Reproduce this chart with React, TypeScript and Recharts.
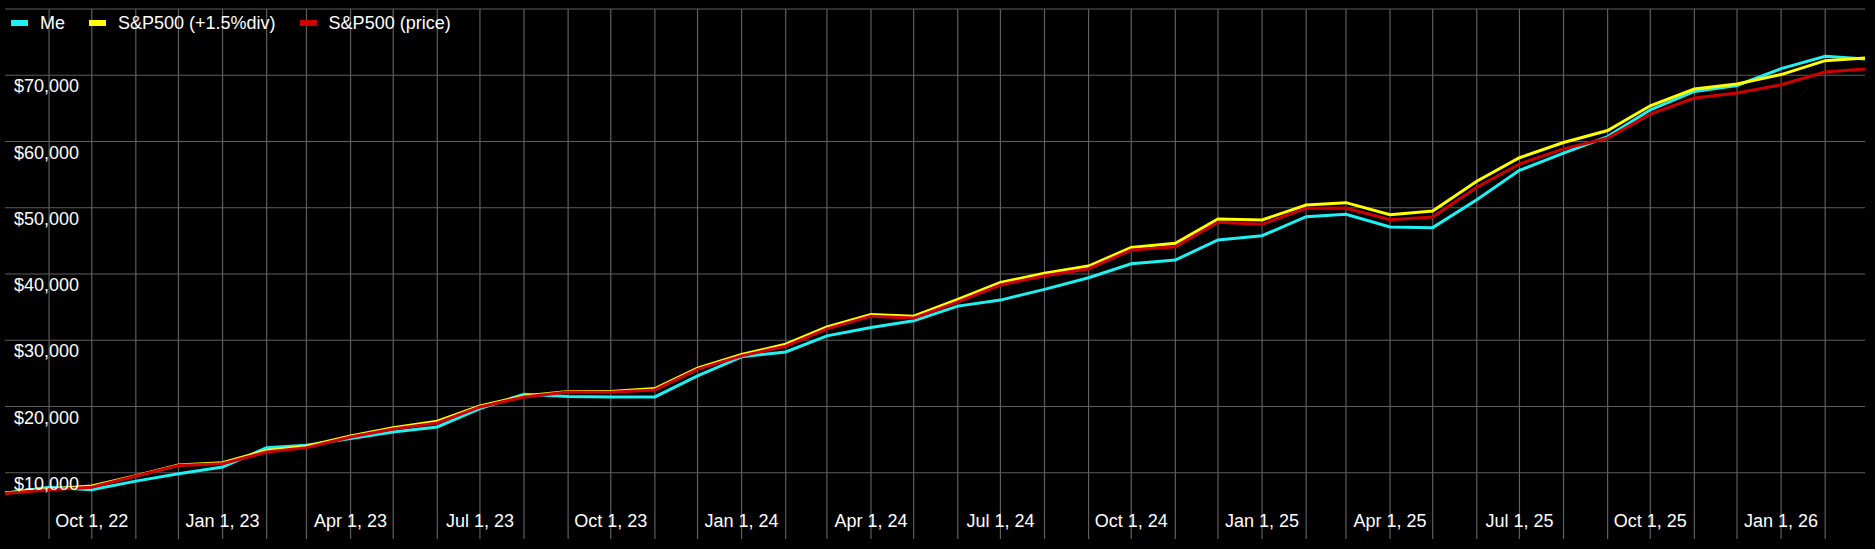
import { LineChart, Line, XAxis, YAxis, CartesianGrid } from "recharts";

// monthly snapshots, first of each month
const MONTHS = [
  "2022-08", "2022-09", "2022-10", "2022-11", "2022-12",
  "2023-01", "2023-02", "2023-03", "2023-04", "2023-05", "2023-06",
  "2023-07", "2023-08", "2023-09", "2023-10", "2023-11", "2023-12",
  "2024-01", "2024-02", "2024-03", "2024-04", "2024-05", "2024-06",
  "2024-07", "2024-08", "2024-09", "2024-10", "2024-11", "2024-12",
  "2025-01", "2025-02", "2025-03", "2025-04", "2025-05", "2025-06",
  "2025-07", "2025-08", "2025-09", "2025-10", "2025-11", "2025-12",
  "2026-01", "2026-02", "2026-03",
];

const ME = [
  6900, 7800, 7450, 8740, 9860,
  10860, 13790, 14140, 15150, 16150, 16910,
  19690, 21850, 21500, 21440, 21440, 24620,
  27490, 28240, 30660, 31930, 32930, 35150,
  36060, 37680, 39430, 41550, 42110, 45130,
  45780, 48660, 49000, 47100, 47000, 51200,
  55650, 58240, 60750, 64790, 67560, 68460,
  71000, 72850, 72450,
];

const SP500_DIV = [
  6950, 7550, 8000, 9550, 11170,
  11520, 13380, 13990, 15550, 16810, 17770,
  20080, 21590, 22250, 22250, 22710, 25800,
  27850, 29410, 32020, 33900, 33640, 36170,
  38740, 40100, 41200, 44000, 44630, 48310,
  48160, 50420, 50770, 48950, 49500, 54000,
  57550, 59850, 61660, 65390, 67920, 68680,
  70100, 72200, 72600,
];

const SP500_PRICE = [
  6880, 7450, 7800, 9500, 11110,
  11370, 13120, 13790, 15400, 16600, 17510,
  19930, 21440, 22200, 22150, 22500, 25600,
  27640, 29100, 31720, 33640, 33340, 35800,
  38330, 39740, 40800, 43620, 44120, 47810,
  47500, 49920, 49970, 48200, 48600, 53100,
  56600, 58890, 60510, 64140, 66560, 67320,
  68570, 70490, 70940,
];

const Y_MAX = 80000;
const Y_TICKS = [10000, 20000, 30000, 40000, 50000, 60000, 70000, 80000];
// the top tick sits under the legend and carries no label
const Y_LABELLED = [10000, 20000, 30000, 40000, 50000, 60000, 70000];

const LABEL_MONTHS = [
  "2022-10", "2023-01", "2023-04", "2023-07", "2023-10", "2024-01", "2024-04",
  "2024-07", "2024-10", "2025-01", "2025-04", "2025-07", "2025-10", "2026-01",
];
const X_LABELS = [
  "Oct 1, 22", "Jan 1, 23", "Apr 1, 23", "Jul 1, 23", "Oct 1, 23", "Jan 1, 24", "Apr 1, 24",
  "Jul 1, 24", "Oct 1, 24", "Jan 1, 25", "Apr 1, 25", "Jul 1, 25", "Oct 1, 25", "Jan 1, 26",
];

const SERIES = [
  { key: "me", name: "Me", color: "#1ff0f2" },
  { key: "div", name: "S&P500 (+1.5%div)", color: "#ffff00" },
  { key: "price", name: "S&P500 (price)", color: "#cc0000" },
];

const toTime = (m: string) => {
  const [y, mo] = m.split("-").map(Number);
  return Date.UTC(y, mo - 1, 1);
};

const data = MONTHS.map((m, i) => ({
  t: toTime(m),
  me: ME[i],
  div: SP500_DIV[i],
  price: SP500_PRICE[i],
}));

const T0 = data[0].t;
const T1 = data[data.length - 1].t;

// vertical grid at every month inside the domain
const gridTicks = MONTHS.slice(1, -1).map(toTime);
const labelByTime = new Map(LABEL_MONTHS.map((m, i) => [toTime(m), X_LABELS[i]]));

const W = 1875;
const H = 549;
const FONT = "'Liberation Sans', Arial, sans-serif";

const XTick = (props: any) => {
  const label = labelByTime.get(props.payload?.value);
  if (!label) return <g />;
  return (
    <text x={props.x} y={526.5} fill="#ffffff" fontSize={18} fontFamily={FONT} textAnchor="middle">
      {label}
    </text>
  );
};

const YTick = (props: any) => {
  const v = Number(props.payload?.value);
  if (!Y_LABELLED.includes(v)) return <g />;
  return (
    <text x={14} y={props.y + 17} fill="#ffffff" fontSize={18} fontFamily={FONT} textAnchor="start">
      {"$" + v.toLocaleString("en-US")}
    </text>
  );
};

// grid lines only at the given ticks (no border lines at the plot edges)
const vGrid = ({ xAxis, offset }: any) =>
  gridTicks.map((t) =>
    typeof xAxis?.scale === "function"
      ? xAxis.scale(t)
      : offset.left + ((t - T0) / (T1 - T0)) * offset.width
  );
const hGrid = ({ yAxis, offset }: any) =>
  Y_TICKS.map((v) =>
    typeof yAxis?.scale === "function"
      ? yAxis.scale(v)
      : offset.top + (1 - v / Y_MAX) * offset.height
  );

export default function App() {
  return (
    <div style={{ position: "relative", width: W, height: H, background: "#000" }}>
      <style>{"body{margin:0;background:#000}"}</style>
      <LineChart width={W} height={H} data={data} margin={{ top: 9, right: 10, bottom: 10, left: 5 }}>
        <CartesianGrid
          stroke="#5e5e5e"
          strokeWidth={1.2}
          verticalCoordinatesGenerator={vGrid}
          horizontalCoordinatesGenerator={hGrid}
        />
        {SERIES.map((s) => (
          <Line
            key={s.key}
            type="linear"
            dataKey={s.key}
            name={s.name}
            stroke={s.color}
            strokeWidth={3}
            dot={false}
            isAnimationActive={false}
          />
        ))}
        <XAxis
          dataKey="t"
          type="number"
          domain={[T0, T1]}
          ticks={gridTicks}
          interval={0}
          mirror
          axisLine={false}
          tickLine={false}
          tick={XTick}
        />
        <YAxis
          type="number"
          domain={[0, Y_MAX]}
          ticks={Y_TICKS}
          interval={0}
          mirror
          axisLine={false}
          tickLine={false}
          tick={YTick}
        />
      </LineChart>
      <div style={{ position: "absolute", top: 14, left: 11, display: "flex", fontFamily: FONT, fontSize: 18, lineHeight: "18px", color: "#fff" }}>
        {SERIES.map((s) => (
          <div key={s.key} style={{ display: "flex", alignItems: "center", marginRight: 24 }}>
            <span style={{ display: "inline-block", width: 17, height: 6, background: s.color, marginRight: 12 }} />
            <span>{s.name}</span>
          </div>
        ))}
      </div>
    </div>
  );
}
